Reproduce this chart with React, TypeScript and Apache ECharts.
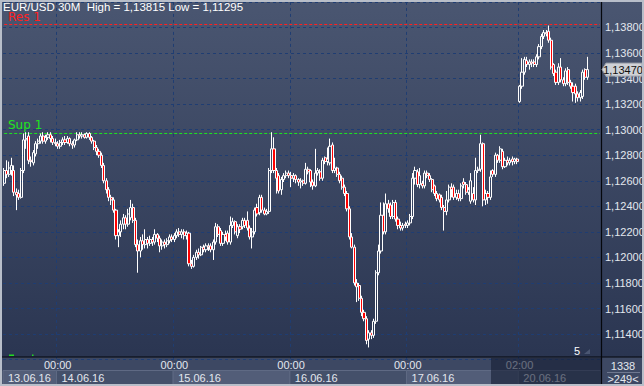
import React, { useEffect, useRef } from 'react';
import * as echarts from 'echarts';

// Each candle: [open, high, low, close]
const day13: number[][] = [
  [1.1258, 1.1270, 1.1256, 1.1268], [1.1268, 1.1276, 1.1262, 1.1265], [1.1265, 1.1275, 1.1263, 1.1270],
  [1.1268, 1.1278, 1.1264, 1.1272], [1.1268, 1.1272, 1.1248, 1.1251], [1.1251, 1.1254, 1.1237, 1.1249],
  [1.1250, 1.1253, 1.1245, 1.1247], [1.1247, 1.1270, 1.1246, 1.1268], [1.1268, 1.1297, 1.1266, 1.1292],
  [1.1292, 1.1298, 1.1285, 1.1293], [1.1295, 1.1298, 1.1273, 1.1276], [1.1276, 1.1279, 1.1271, 1.1275],
  [1.1274, 1.1284, 1.1272, 1.1282], [1.1281, 1.1291, 1.1279, 1.1289], [1.1289, 1.1293, 1.1285, 1.1291],
  [1.1291, 1.1297, 1.1289, 1.1295], [1.1295, 1.1298, 1.1289, 1.1291], [1.1291, 1.1296, 1.1289, 1.1294],
  [1.1294, 1.1298, 1.1292, 1.1296], [1.1296, 1.1298, 1.1290, 1.1293], [1.1293, 1.1295, 1.1288, 1.1290],
  [1.1290, 1.1293, 1.1287, 1.1289],
];
const day14: number[][] = [
  [1.1289, 1.1291, 1.1285, 1.1287], [1.1287, 1.1292, 1.1285, 1.1290], [1.1290, 1.1294, 1.1288, 1.1292],
  [1.1292, 1.1295, 1.1288, 1.1290], [1.1290, 1.1295, 1.1289, 1.1293], [1.1293, 1.1294, 1.1287, 1.1289],
  [1.1289, 1.1291, 1.1285, 1.1288], [1.1288, 1.1293, 1.1286, 1.1292], [1.1292, 1.1298, 1.1291, 1.1296],
  [1.1296, 1.1298, 1.1293, 1.1295], [1.1295, 1.1298, 1.1293, 1.1296], [1.1296, 1.1297, 1.1293, 1.1294],
  [1.1294, 1.1298, 1.1293, 1.1297], [1.1297, 1.1298, 1.1292, 1.1294], [1.1294, 1.1295, 1.1289, 1.1291],
  [1.1291, 1.1292, 1.1284, 1.1286], [1.1286, 1.1288, 1.1280, 1.1283], [1.1283, 1.1285, 1.1278, 1.1280],
  [1.1280, 1.1282, 1.1270, 1.1272], [1.1272, 1.1274, 1.1258, 1.1260], [1.1260, 1.1262, 1.1250, 1.1253],
  [1.1253, 1.1255, 1.1244, 1.1247], [1.1247, 1.1249, 1.1241, 1.1245], [1.1245, 1.1247, 1.1235, 1.1237],
  [1.1237, 1.1238, 1.1214, 1.1217], [1.1217, 1.1222, 1.1208, 1.1220], [1.1220, 1.1229, 1.1216, 1.1226],
  [1.1226, 1.1234, 1.1222, 1.1231], [1.1231, 1.1233, 1.1222, 1.1226], [1.1226, 1.1238, 1.1224, 1.1234],
  [1.1231, 1.1245, 1.1229, 1.1239], [1.1239, 1.1242, 1.1227, 1.1229], [1.1229, 1.1231, 1.1208, 1.1210],
  [1.1210, 1.1214, 1.1188, 1.1205], [1.1205, 1.1216, 1.1200, 1.1213], [1.1213, 1.1218, 1.1206, 1.1210],
  [1.1210, 1.1222, 1.1207, 1.1214], [1.1214, 1.1216, 1.1207, 1.1211], [1.1211, 1.1217, 1.1209, 1.1214],
  [1.1214, 1.1216, 1.1209, 1.1212], [1.1212, 1.1222, 1.1210, 1.1218], [1.1218, 1.1219, 1.1212, 1.1215],
  [1.1215, 1.1217, 1.1204, 1.1209], [1.1209, 1.1214, 1.1206, 1.1212], [1.1212, 1.1214, 1.1207, 1.1210],
  [1.1210, 1.1215, 1.1208, 1.1213], [1.1213, 1.1218, 1.1211, 1.1216], [1.1216, 1.1218, 1.1212, 1.1214],
];
const day15: number[][] = [
  [1.1214, 1.1219, 1.1212, 1.1217], [1.1217, 1.1222, 1.1215, 1.1220], [1.1220, 1.1223, 1.1216, 1.1218],
  [1.1218, 1.1222, 1.1215, 1.1220], [1.1220, 1.1222, 1.1214, 1.1217], [1.1217, 1.1221, 1.1214, 1.1219],
  [1.1219, 1.1220, 1.1193, 1.1195], [1.1195, 1.1198, 1.1191, 1.1193], [1.1193, 1.1202, 1.1192, 1.1200],
  [1.1200, 1.1206, 1.1198, 1.1204], [1.1204, 1.1207, 1.1199, 1.1202], [1.1202, 1.1209, 1.1201, 1.1208],
  [1.1208, 1.1210, 1.1204, 1.1206], [1.1206, 1.1211, 1.1204, 1.1209], [1.1209, 1.1211, 1.1205, 1.1208],
  [1.1209, 1.1211, 1.1204, 1.1206], [1.1206, 1.1214, 1.1198, 1.1212], [1.1212, 1.1227, 1.1210, 1.1224],
  [1.1224, 1.1226, 1.1216, 1.1218], [1.1221, 1.1223, 1.1209, 1.1211], [1.1211, 1.1220, 1.1209, 1.1218],
  [1.1218, 1.1221, 1.1213, 1.1216], [1.1219, 1.1221, 1.1210, 1.1212], [1.1212, 1.1232, 1.1210, 1.1225],
  [1.1225, 1.1231, 1.1223, 1.1228], [1.1228, 1.1229, 1.1218, 1.1220], [1.1217, 1.1226, 1.1215, 1.1224],
  [1.1224, 1.1226, 1.1219, 1.1222], [1.1224, 1.1231, 1.1222, 1.1229], [1.1229, 1.1231, 1.1223, 1.1225],
  [1.1229, 1.1236, 1.1221, 1.1223], [1.1223, 1.1225, 1.1214, 1.1216], [1.1216, 1.1223, 1.1207, 1.1220],
  [1.1220, 1.1239, 1.1218, 1.1237], [1.1239, 1.1242, 1.1232, 1.1234], [1.1235, 1.1249, 1.1233, 1.1247],
  [1.1247, 1.1249, 1.1235, 1.1237], [1.1237, 1.1239, 1.1233, 1.1234], [1.1234, 1.1238, 1.1233, 1.1236],
  [1.1236, 1.1270, 1.1234, 1.1268], [1.1268, 1.1298, 1.1266, 1.1285], [1.1285, 1.1294, 1.1266, 1.1268],
  [1.1268, 1.1270, 1.1250, 1.1262], [1.1264, 1.1266, 1.1250, 1.1252], [1.1253, 1.1263, 1.1249, 1.1261],
  [1.1261, 1.1266, 1.1259, 1.1264], [1.1264, 1.1268, 1.1262, 1.1266], [1.1266, 1.1268, 1.1262, 1.1264],
];
const day16: number[][] = [
  [1.1264, 1.1267, 1.1255, 1.1262], [1.1262, 1.1266, 1.1259, 1.1264], [1.1264, 1.1265, 1.1258, 1.1261],
  [1.1261, 1.1262, 1.1256, 1.1259], [1.1259, 1.1262, 1.1254, 1.1260], [1.1260, 1.1261, 1.1256, 1.1258],
  [1.1258, 1.1274, 1.1257, 1.1269], [1.1269, 1.1271, 1.1265, 1.1267], [1.1268, 1.1269, 1.1255, 1.1259],
  [1.1259, 1.1261, 1.1253, 1.1256], [1.1256, 1.1285, 1.1255, 1.1266], [1.1266, 1.1270, 1.1264, 1.1268],
  [1.1267, 1.1269, 1.1260, 1.1262], [1.1262, 1.1278, 1.1260, 1.1276], [1.1278, 1.1279, 1.1273, 1.1275],
  [1.1275, 1.1286, 1.1272, 1.1277], [1.1274, 1.1293, 1.1272, 1.1287], [1.1288, 1.1290, 1.1266, 1.1268],
  [1.1268, 1.1278, 1.1266, 1.1270], [1.1270, 1.1271, 1.1263, 1.1265], [1.1265, 1.1267, 1.1258, 1.1260],
  [1.1262, 1.1264, 1.1253, 1.1255], [1.1255, 1.1257, 1.1248, 1.1250], [1.1250, 1.1252, 1.1236, 1.1238],
  [1.1238, 1.1240, 1.1214, 1.1216], [1.1216, 1.1219, 1.1207, 1.1208], [1.1208, 1.1210, 1.1178, 1.1180],
  [1.1180, 1.1183, 1.1165, 1.1177], [1.1178, 1.1180, 1.1166, 1.1168], [1.1168, 1.1170, 1.1154, 1.1157],
  [1.1157, 1.1159, 1.1150, 1.1152], [1.1152, 1.1154, 1.1132, 1.1135], [1.1136, 1.1143, 1.11295, 1.1141],
  [1.1141, 1.1143, 1.1136, 1.1139], [1.1139, 1.1152, 1.1137, 1.1150], [1.1150, 1.1190, 1.1148, 1.1188],
  [1.1188, 1.1210, 1.1186, 1.1205], [1.1205, 1.1243, 1.1203, 1.1233], [1.1233, 1.1243, 1.1218, 1.1220],
  [1.1220, 1.1250, 1.1218, 1.1242], [1.1242, 1.1245, 1.1235, 1.1238], [1.1241, 1.1243, 1.1230, 1.1232],
  [1.1232, 1.1245, 1.1230, 1.1243], [1.1243, 1.1245, 1.1228, 1.1230], [1.1230, 1.1232, 1.1222, 1.1225],
  [1.1225, 1.1228, 1.1221, 1.1223], [1.1223, 1.1227, 1.1221, 1.1225], [1.1226, 1.1228, 1.1223, 1.1225],
];
const day17: number[][] = [
  [1.1225, 1.1229, 1.1223, 1.1227], [1.1227, 1.1234, 1.1225, 1.1232], [1.1232, 1.1266, 1.1230, 1.1262],
  [1.1262, 1.1271, 1.1257, 1.1268], [1.1267, 1.1269, 1.1255, 1.1257], [1.1257, 1.1270, 1.1254, 1.1264],
  [1.1258, 1.1260, 1.1254, 1.1256], [1.1256, 1.1268, 1.1254, 1.1266], [1.1266, 1.1268, 1.1262, 1.1264],
  [1.1264, 1.1266, 1.1259, 1.1261], [1.1261, 1.1262, 1.1251, 1.1253], [1.1256, 1.1257, 1.1248, 1.1250],
  [1.1250, 1.1252, 1.1244, 1.1246], [1.1249, 1.1250, 1.1243, 1.1245], [1.1247, 1.1249, 1.1237, 1.1239],
  [1.1239, 1.1241, 1.1221, 1.1236], [1.1236, 1.1252, 1.1233, 1.1245], [1.1245, 1.1257, 1.1243, 1.1255],
  [1.1255, 1.1258, 1.1247, 1.1253], [1.1255, 1.1257, 1.1245, 1.1247], [1.1247, 1.1253, 1.1245, 1.1250],
  [1.1250, 1.1253, 1.1244, 1.1246], [1.1246, 1.1258, 1.1244, 1.1256], [1.1259, 1.1262, 1.1254, 1.1257],
  [1.1257, 1.1259, 1.1249, 1.1251], [1.1251, 1.1255, 1.1249, 1.1253], [1.1244, 1.1266, 1.1242, 1.1260],
  [1.1250, 1.1255, 1.1243, 1.1245], [1.1245, 1.1278, 1.1241, 1.1268], [1.1268, 1.1271, 1.1266, 1.1269],
  [1.1269, 1.1296, 1.1267, 1.1289], [1.1289, 1.1290, 1.1240, 1.1245], [1.1245, 1.1253, 1.1241, 1.1250],
  [1.1250, 1.1252, 1.1242, 1.1247], [1.1247, 1.1268, 1.1245, 1.1263], [1.1268, 1.1269, 1.1263, 1.1265],
  [1.1265, 1.1282, 1.1263, 1.1280], [1.1280, 1.1281, 1.1274, 1.1276], [1.1276, 1.1287, 1.1274, 1.1285],
  [1.1283, 1.1285, 1.1269, 1.1271], [1.1271, 1.1278, 1.1270, 1.1276], [1.1276, 1.1279, 1.1272, 1.1274],
  [1.1274, 1.1278, 1.1272, 1.1276], [1.1277, 1.1279, 1.1272, 1.1275], [1.1275, 1.1278, 1.1273, 1.1277],
  [1.1277, 1.1278, 1.1273, 1.1275],
];
const day20: number[][] = [
  [1.1322, 1.1335, 1.1321, 1.1334], [1.1334, 1.1356, 1.1332, 1.1345], [1.1345, 1.1357, 1.1343, 1.1355],
  [1.1354, 1.1357, 1.1349, 1.1351], [1.1351, 1.1355, 1.1347, 1.1353], [1.1353, 1.1355, 1.1349, 1.1352],
  [1.1353, 1.1355, 1.1349, 1.1351], [1.1351, 1.1359, 1.1349, 1.1357], [1.1357, 1.1367, 1.1355, 1.1365],
  [1.1365, 1.1375, 1.1363, 1.1373], [1.1373, 1.1378, 1.1371, 1.1376], [1.1376, 1.1378, 1.1373, 1.1375],
  [1.1377, 1.13815, 1.1368, 1.1370], [1.1370, 1.1372, 1.1347, 1.1349], [1.1351, 1.1352, 1.1342, 1.1344],
  [1.1345, 1.1347, 1.1335, 1.1337], [1.1337, 1.1352, 1.1335, 1.1349], [1.1349, 1.1356, 1.1337, 1.1339],
  [1.1339, 1.1341, 1.1334, 1.1336], [1.1336, 1.1348, 1.1334, 1.1346], [1.1347, 1.1349, 1.1335, 1.1337],
  [1.1337, 1.1339, 1.1332, 1.1334], [1.1334, 1.1337, 1.1322, 1.1329], [1.1334, 1.1336, 1.1321, 1.1328],
  [1.1328, 1.1330, 1.1322, 1.1325], [1.1325, 1.1331, 1.1322, 1.1329], [1.1326, 1.1347, 1.1324, 1.1345],
  [1.1347, 1.1348, 1.1339, 1.1341], [1.1341, 1.1357, 1.1339, 1.1347],
];

const dayNames = ['13.06.16', '14.06.16', '15.06.16', '16.06.16', '17.06.16', '20.06.16'];
const dayFirstMinute = [13 * 60, 0, 0, 0, 0, 2 * 60];
const dayCandles = [day13, day14, day15, day16, day17, day20];
const emptySlotsRight = 5;

const titleText = 'EUR/USD 30M  High = 1,13815 Low = 1,11295';
const levelNames = ['Res 1', 'Sup 1'];
const levelValues = [1.13823, 1.1297];
const levelColors = ['#ff2020', '#1ee61e'];
const yMin = 1.112;
const yMax = 1.14;
const yStep = 0.002;
const barsInfo = ['1338', '>249<'];
const scaleMark = '5';

const fmtPrice = (v: number) => v.toFixed(5).replace('.', ',');

const categories: string[] = [];
const candleData: number[][] = [];
const dayStartIdx: number[] = [];
dayCandles.forEach((d, k) => {
  dayStartIdx.push(categories.length);
  d.forEach((c, j) => {
    const m = dayFirstMinute[k] + j * 30;
    const hh = String(Math.floor(m / 60)).padStart(2, '0');
    const mm = String(m % 60).padStart(2, '0');
    categories.push(dayNames[k] + ' ' + hh + ':' + mm);
    candleData.push([c[0], c[3], c[2], c[1]]);
  });
});
for (let i = 0; i < emptySlotsRight; i++) categories.push('');
const tickIdx = new Set(dayStartIdx.slice(1));
const lastClose = candleData[candleData.length - 1][1];

const FONT = 'Liberation Sans, Arial, sans-serif';

export default function App() {
  const ref = useRef<HTMLDivElement>(null);
  useEffect(() => {
    if (!ref.current) return;
    const chart = echarts.init(ref.current, undefined, { renderer: 'svg' });
    const gridLeft = 3;
    const gridRight = 43;
    const W = 644;
    const H = 386;
    const plotRight = W - gridRight;
    const bandTop = 357;
    const levelSeries = levelValues.map((v, k) => ({
      type: 'line',
      name: levelNames[k],
      color: levelColors[k],
      data: [[0, v], [categories.length - 1, v]],
      symbol: 'none',
      silent: true,
      z: 3,
      itemStyle: { color: levelColors[k] },
      lineStyle: { color: levelColors[k], width: 1, type: [3, 2], opacity: 1 },
      emphasis: { disabled: true },
    }));
    chart.setOption({
      animation: false,
      backgroundColor: new echarts.graphic.LinearGradient(0, 0, 0, 1, [
        { offset: 0, color: '#4a5671' },
        { offset: 1, color: '#28334f' },
      ]),
      title: {
        text: titleText,
        left: 3,
        top: 1,
        padding: 0,
        textStyle: { color: '#ffffff', fontSize: 11.5, fontWeight: 'normal', fontFamily: FONT },
      },
      grid: {
        left: gridLeft,
        right: gridRight,
        top: 1.9,
        bottom: 26.4,
        containLabel: false,
        outerBoundsMode: 'none',
      },
      xAxis: {
        type: 'category',
        data: categories,
        boundaryGap: true,
        axisLine: { show: false },
        axisTick: { show: false },
        axisLabel: {
          interval: (i: number) => tickIdx.has(i),
          formatter: (v: string) => v.split(' ')[1] || '',
          color: '#e3e7ee',
          fontSize: 11,
          fontFamily: FONT,
          margin: 0,
        },
        splitLine: {
          show: true,
          interval: (i: number) => tickIdx.has(i),
          lineStyle: { color: '#1f3d72', type: [3, 3], width: 1 },
        },
      },
      yAxis: {
        type: 'value',
        position: 'right',
        min: yMin,
        max: yMax,
        interval: yStep,
        axisLine: { show: false },
        axisTick: { show: false },
        axisLabel: {
          showMinLabel: false,
          showMaxLabel: false,
          formatter: (v: number) => fmtPrice(v),
          color: '#e3e7ee',
          fontSize: 11,
          fontFamily: FONT,
          margin: 4,
        },
        splitLine: { lineStyle: { color: '#1f3d72', type: [3, 3], width: 1 } },
      },
      series: [
        ...levelSeries,
        {
          type: 'candlestick',
          data: candleData,
          barWidth: 2.6,
          z: 4,
          itemStyle: {
            color: 'rgba(0,0,0,0)',
            color0: '#ff0000',
            borderColor: '#ffffff',
            borderColor0: '#ffffff',
            borderWidth: 1,
          },
          emphasis: { disabled: true },
        },
      ],
    });

    const cx = (i: number) => chart.convertToPixel({ xAxisIndex: 0 }, i) as number;
    const cy = (v: number) => chart.convertToPixel({ yAxisIndex: 0 }, v) as number;
    const band = cx(1) - cx(0);
    const boundary = (i: number) => cx(i) - band / 2;
    const priceY = cy(lastClose);

    const g: any[] = [];
    // support / resistance labels
    levelValues.forEach((v, k) => {
      g.push({ type: 'text', z: 3, x: 8, y: cy(v) - 2, style: { text: levelNames[k], fill: levelColors[k], fontSize: 12, fontFamily: 'DejaVu Sans', verticalAlign: 'bottom' } });
    });
    // bottom time band
    g.push({ type: 'rect', z: -1, shape: { x: 0, y: bandTop, width: W, height: H - bandTop }, style: { fill: '#3d4863' } });
    dayNames.forEach((name, k) => {
      const x0 = k === 0 ? gridLeft : boundary(dayStartIdx[k]);
      const x1 = k < dayNames.length - 1 ? boundary(dayStartIdx[k + 1]) : plotRight;
      g.push({
        type: 'rect', z: -1,
        shape: { x: x0, y: 370.5, width: x1 - x0, height: 14 },
        style: { fill: k % 2 === 0 ? '#525d78' : '#44506a', stroke: '#5f6a84', lineWidth: 1 },
      });
      g.push({
        type: 'text', z: 1, x: x0 + 5, y: 377.5,
        style: { text: name, fill: '#e3e7ee', fontSize: 11, fontFamily: FONT, verticalAlign: 'middle' },
      });
    });
    // dimmed scroll region
    g.push({ type: 'rect', z: 20, shape: { x: 491, y: bandTop + 1, width: plotRight - 491, height: H - bandTop - 3 }, style: { fill: 'rgba(22,30,52,0.6)' } });
    // separators
    g.push({ type: 'line', z: 30, shape: { x1: 0, y1: bandTop, x2: W, y2: bandTop }, style: { stroke: '#05070c', lineWidth: 1.2 } });
    g.push({ type: 'line', z: 30, shape: { x1: plotRight + 0.5, y1: 0, x2: plotRight + 0.5, y2: H }, style: { stroke: '#05070c', lineWidth: 1.2 } });
    // right-bottom info
    g.push({ type: 'text', z: 30, x: 623, y: 366, style: { text: barsInfo[0], fill: '#e3e7ee', fontSize: 11, fontFamily: FONT, align: 'center', verticalAlign: 'middle' } });
    g.push({ type: 'line', z: 30, shape: { x1: 607, y1: 372.5, x2: 640, y2: 372.5 }, style: { stroke: '#6f7890', lineWidth: 1 } });
    g.push({ type: 'text', z: 30, x: 623, y: 379, style: { text: barsInfo[1], fill: '#e3e7ee', fontSize: 11, fontFamily: FONT, align: 'center', verticalAlign: 'middle' } });
    // scale mark
    g.push({ type: 'text', z: 30, x: 577, y: 351, style: { text: scaleMark, fill: '#ffffff', fontSize: 11, fontFamily: FONT, align: 'center', verticalAlign: 'middle' } });
    g.push({ type: 'polygon', z: 30, shape: { points: [[584, 354], [590, 354], [590, 349]] }, style: { fill: '#4a5672' } });
    // small green marks
    g.push({ type: 'rect', z: 30, shape: { x: 9, y: 354.5, width: 5, height: 1.5 }, style: { fill: '#22dd22' } });
    g.push({ type: 'rect', z: 30, shape: { x: 32, y: 354.5, width: 1.5, height: 1.5 }, style: { fill: '#22dd22' } });
    // current price tag
    g.push({
      type: 'polygon', z: 40,
      shape: { points: [[plotRight + 1, priceY], [plotRight + 5, priceY - 6.5], [642, priceY - 6.5], [642, priceY + 6.5], [plotRight + 5, priceY + 6.5]] },
      style: { fill: '#cfd1d6', stroke: '#9aa0aa', lineWidth: 1 },
    });
    g.push({ type: 'text', z: 41, x: 623, y: priceY, style: { text: fmtPrice(lastClose), fill: '#111111', fontSize: 11, fontFamily: FONT, align: 'center', verticalAlign: 'middle' } });
    // outer frame
    g.push({ type: 'rect', z: 50, shape: { x: 1, y: 1, width: W - 2, height: H - 2 }, style: { fill: 'none', stroke: '#b8bec9', lineWidth: 2 } });

    chart.setOption({ graphic: g });
    return () => chart.dispose();
  }, []);
  return <div ref={ref} style={{ position: 'fixed', left: 0, top: 0, width: 644, height: 386 }} />;
}
